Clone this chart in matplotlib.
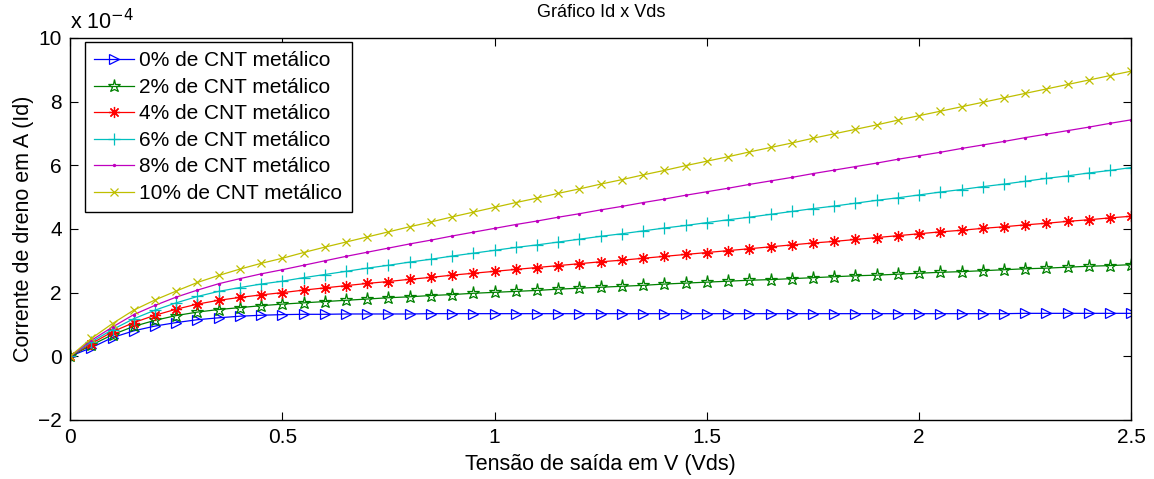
import numpy as np
import matplotlib.pyplot as plt

plt.rcParams['font.family'] = ['Liberation Sans', 'DejaVu Sans']

# ======================
# DATA (corrente em unidades de 1e-4 A)
# ======================
vds = [0.00, 0.05, 0.10, 0.15, 0.20, 0.25, 0.30, 0.35, 0.40, 0.45,
       0.50, 0.55, 0.60, 0.65, 0.70, 0.75, 0.80, 0.85, 0.90, 0.95,
       1.00, 1.05, 1.10, 1.15, 1.20, 1.25, 1.30, 1.35, 1.40, 1.45,
       1.50, 1.55, 1.60, 1.65, 1.70, 1.75, 1.80, 1.85, 1.90, 1.95,
       2.00, 2.05, 2.10, 2.15, 2.20, 2.25, 2.30, 2.35, 2.40, 2.45,
       2.50]

id_0 = [0.00, 0.27, 0.59, 0.80, 0.95, 1.06, 1.15, 1.21, 1.26, 1.29,
        1.31, 1.32, 1.32, 1.33, 1.33, 1.33, 1.33, 1.34, 1.34, 1.34,
        1.34, 1.34, 1.34, 1.34, 1.34, 1.34, 1.34, 1.34, 1.34, 1.34,
        1.34, 1.34, 1.34, 1.34, 1.34, 1.34, 1.34, 1.34, 1.34, 1.34,
        1.34, 1.34, 1.34, 1.34, 1.34, 1.35, 1.35, 1.35, 1.35, 1.35,
        1.35]
id_2 = [0.00, 0.35, 0.68, 0.94, 1.13, 1.28, 1.39, 1.47, 1.53, 1.59,
        1.64, 1.68, 1.72, 1.76, 1.80, 1.84, 1.87, 1.91, 1.94, 1.98,
        2.01, 2.04, 2.07, 2.11, 2.14, 2.17, 2.20, 2.23, 2.27, 2.30,
        2.33, 2.36, 2.39, 2.41, 2.44, 2.47, 2.50, 2.53, 2.55, 2.58,
        2.61, 2.64, 2.66, 2.69, 2.72, 2.75, 2.77, 2.80, 2.83, 2.85,
        2.88]
id_4 = [0.00, 0.40, 0.77, 1.06, 1.29, 1.48, 1.64, 1.76, 1.85, 1.93,
        2.00, 2.08, 2.15, 2.22, 2.29, 2.35, 2.42, 2.48, 2.55, 2.61,
        2.67, 2.73, 2.79, 2.85, 2.91, 2.97, 3.02, 3.08, 3.14, 3.20,
        3.26, 3.32, 3.38, 3.44, 3.50, 3.56, 3.61, 3.67, 3.73, 3.79,
        3.85, 3.91, 3.96, 4.02, 4.07, 4.13, 4.18, 4.24, 4.29, 4.35,
        4.40]
id_6 = [0.00, 0.45, 0.84, 1.18, 1.45, 1.68, 1.88, 2.04, 2.16, 2.27,
        2.36, 2.47, 2.57, 2.67, 2.77, 2.86, 2.96, 3.05, 3.15, 3.24,
        3.33, 3.42, 3.50, 3.59, 3.68, 3.77, 3.85, 3.94, 4.03, 4.11,
        4.20, 4.29, 4.37, 4.46, 4.55, 4.64, 4.72, 4.81, 4.90, 4.98,
        5.07, 5.16, 5.24, 5.33, 5.41, 5.50, 5.59, 5.67, 5.76, 5.84,
        5.93]
id_8 = [0.00, 0.50, 0.92, 1.31, 1.60, 1.86, 2.08, 2.28, 2.44, 2.59,
        2.72, 2.86, 3.00, 3.14, 3.27, 3.40, 3.53, 3.65, 3.78, 3.90,
        4.02, 4.14, 4.25, 4.37, 4.48, 4.60, 4.71, 4.83, 4.94, 5.06,
        5.17, 5.28, 5.40, 5.51, 5.62, 5.74, 5.85, 5.96, 6.07, 6.19,
        6.30, 6.41, 6.53, 6.64, 6.75, 6.87, 6.98, 7.09, 7.20, 7.32,
        7.43]
id_10 = [0.00, 0.56, 1.03, 1.45, 1.77, 2.05, 2.32, 2.54, 2.74, 2.92,
         3.08, 3.26, 3.43, 3.59, 3.75, 3.91, 4.07, 4.22, 4.38, 4.53,
         4.68, 4.83, 4.97, 5.12, 5.26, 5.41, 5.55, 5.70, 5.84, 5.99,
         6.13, 6.27, 6.42, 6.56, 6.70, 6.85, 6.99, 7.13, 7.27, 7.42,
         7.56, 7.70, 7.84, 7.98, 8.12, 8.26, 8.40, 8.54, 8.68, 8.82,
         8.96]

labels = ["0% de CNT metálico", "2% de CNT metálico", "4% de CNT metálico",
          "6% de CNT metálico", "8% de CNT metálico", "10% de CNT metálico"]

# ======================
# PLOT
# ======================
fig = plt.figure(figsize=(11.54, 4.79), dpi=100)
ax = fig.add_axes([0.0607, 0.1232, 0.9197, 0.7975])

series = [
    (id_0, (0, 0, 1), ">", 7.5, "none"),
    (id_2, (0, 0.5, 0), "*", 9.5, "none"),
    (id_4, (1, 0, 0), (8, 2, 0), 8, "full"),
    (id_6, (0, 0.75, 0.75), "+", 9, "full"),
    (id_8, (0.75, 0, 0.75), ".", 3, "full"),
    (id_10, (0.75, 0.75, 0), "x", 6, "full"),
]

for (vals, col, mk, ms, fs), lab in zip(series, labels):
    ax.plot(vds, vals, color=col, marker=mk, markersize=ms, fillstyle=fs,
            markeredgewidth=0.9, linewidth=0.9, label=lab)

ax.set_xlim(0, 2.5)
ax.set_ylim(-2, 10)
ax.set_xticks([0, 0.5, 1, 1.5, 2, 2.5])
ax.set_xticklabels(["0", "0.5", "1", "1.5", "2", "2.5"])
ax.set_yticks([-2, 0, 2, 4, 6, 8, 10])
ax.set_yticklabels(["\u22122", "0", "2", "4", "6", "8", "10"])
ax.tick_params(direction="in", length=6, width=0.8, labelsize=15,
               top=True, right=True, pad=6)
for s in ax.spines.values():
    s.set_linewidth(1.0)

ax.set_xlabel("Tensão de saída em V (Vds)", fontsize=15.5, labelpad=5)
ax.set_ylabel("Corrente de dreno em A (Id)", fontsize=15.5, labelpad=3)
ax.set_title("Gráfico Id x Vds", fontsize=13, pad=15)
ax.text(0.0, 1.01, r"x 10$^{-4}$", transform=ax.transAxes, fontsize=15.5,
        ha="left", va="bottom")

leg = ax.legend(loc="upper left", bbox_to_anchor=(0.0141, 0.9895),
                fontsize=15, frameon=True, fancybox=False,
                edgecolor="black", framealpha=1, handlelength=1.9,
                handletextpad=0.25, labelspacing=0.36, borderpad=0.45,
                borderaxespad=0.0)
leg.get_frame().set_linewidth(1.0)

plt.savefig("out.png", dpi=100)
